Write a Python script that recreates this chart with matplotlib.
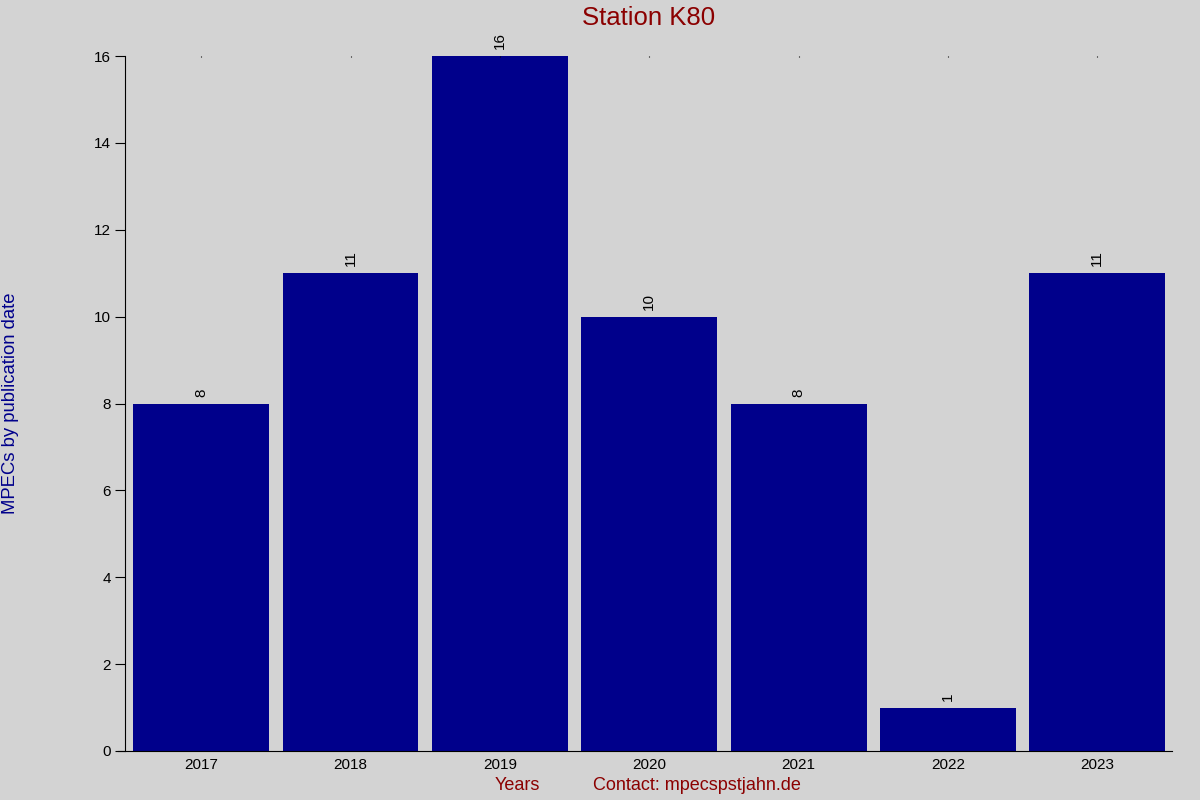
import matplotlib

matplotlib.use("Agg")
import matplotlib.pyplot as plt
import numpy as np

plt.rcParams["font.family"] = ["Liberation Sans", "DejaVu Sans"]

years = ["2017", "2018", "2019", "2020", "2021", "2022", "2023"]
mpecs = [8, 11, 16, 10, 8, 1, 11]

bg = "#d3d3d3"
bar_color = "#00008b"
red = "#8b0000"

fig = plt.figure(figsize=(12, 8), dpi=100, facecolor=bg)
ax = fig.add_axes([125 / 1200, 49 / 800, 1047 / 1200, 695 / 800])
ax.set_facecolor(bg)

x = np.arange(len(years))
bars = ax.bar(x, mpecs, width=0.91, color=bar_color)

for xi, v in zip(x, mpecs):
    ax.annotate(str(v), (xi, v), xytext=(0, 5), textcoords="offset points",
                rotation=90, ha="center", va="bottom", fontsize=11)

ax.set_xlim(-0.51, len(years) - 0.5)
ax.set_ylim(0, 16)
ax.set_yticks(np.arange(0, 17, 2))
ax.set_xticks(x)
ax.set_xticklabels(years)

ax.spines["top"].set_visible(False)
ax.spines["right"].set_visible(False)
ax.spines["left"].set_color("black")
ax.spines["bottom"].set_color("black")
ax.tick_params(axis="y", direction="out", length=7, labelsize=11, pad=3)
ax.tick_params(axis="x", bottom=False, top=True, direction="in", length=1,
               labelsize=11, pad=5)
ax.spines["bottom"].set_bounds(-0.51 - 7 / 149.4, len(years) - 0.5)
ax.spines["bottom"].set_clip_on(False)

fig.text(649 / 1200, 1 - 18 / 800, "Station K80", color=red, fontsize=18.5,
         ha="center", va="center")
fig.text(517 / 1200, 1 - 786 / 800, "Years", color=red, fontsize=13,
         ha="center", va="center")
fig.text(697 / 1200, 1 - 786 / 800, "Contact: mpecspstjahn.de", color=red,
         fontsize=13, ha="center", va="center")
fig.text(11 / 1200, 1 - 403 / 800, "MPECs by publication date", color=bar_color,
         fontsize=13.3, rotation=90, ha="center", va="center")

fig.savefig("out.png", dpi=100, facecolor=bg)
